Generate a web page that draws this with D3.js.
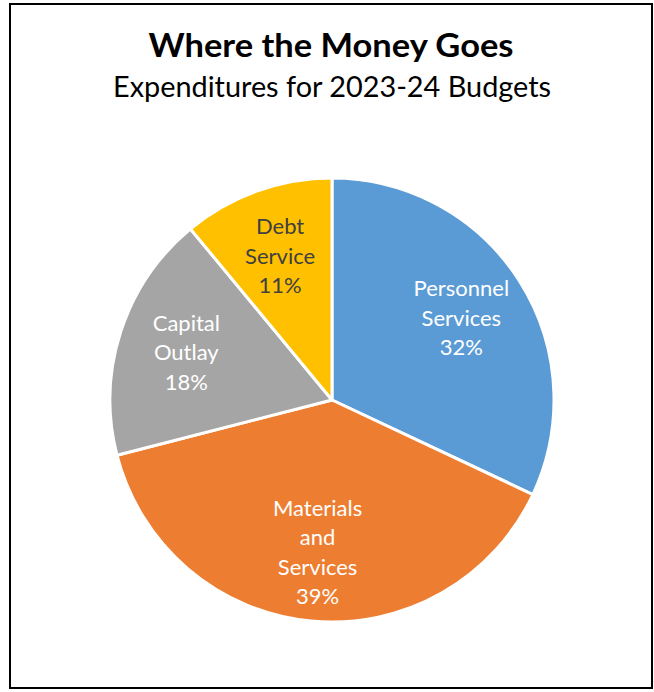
<!DOCTYPE html>
<html>
<head>
<meta charset="utf-8">
<script src="https://cdn.jsdelivr.net/npm/d3@7"></script>
<style>
  html, body { margin: 0; padding: 0; background: #fff; }
  svg { display: block; }
  text { font-family: Lato, "Open Sans", sans-serif; }
</style>
</head>
<body>
<svg id="chart" width="654" height="692"></svg>
<script>
// Budget expenditure shares, in percent
const categories = ["Personnel Services", "Materials and Services", "Capital Outlay", "Debt Service"];
const labelLines = [["Personnel", "Services"], ["Materials", "and", "Services"], ["Capital", "Outlay"], ["Debt", "Service"]];
const shares = [32, 39, 18, 11];
const colors = ["#5B9BD5", "#ED7D31", "#A5A5A5", "#FFC000"];
const textColors = ["#ffffff", "#ffffff", "#ffffff", "#404040"];

const title = "Where the Money Goes";
const subtitle = "Expenditures for 2023-24 Budgets";

const W = 654, H = 692;
const svg = d3.select("#chart");

// Outer frame
svg.append("rect")
  .attr("x", 10).attr("y", 4)
  .attr("width", 642).attr("height", 684)
  .attr("fill", "#fff")
  .attr("stroke", "#000")
  .attr("stroke-width", 2);

// Titles
svg.append("text")
  .attr("x", 331).attr("y", 57)
  .attr("text-anchor", "middle")
  .attr("font-size", 32)
  .attr("font-weight", "bold")
  .attr("textLength", 365)
  .attr("lengthAdjust", "spacingAndGlyphs")
  .attr("fill", "#000")
  .text(title);

svg.append("text")
  .attr("x", 332).attr("y", 97)
  .attr("text-anchor", "middle")
  .attr("font-size", 28)
  .attr("textLength", 438)
  .attr("lengthAdjust", "spacingAndGlyphs")
  .attr("fill", "#000")
  .text(subtitle);

// Pie
const cx = 332, cy = 400, radius = 222;
const data = categories.map((c, i) => ({ name: c, value: shares[i], idx: i }));

const pie = d3.pie().value(d => d.value).sort(null);
const arc = d3.arc().innerRadius(0).outerRadius(radius);
const labelArc = d3.arc().innerRadius(radius * 0.69).outerRadius(radius * 0.69);
const color = d3.scaleOrdinal().domain(categories).range(colors);
const textColor = d3.scaleOrdinal().domain(categories).range(textColors);

const g = svg.append("g").attr("transform", `translate(${cx},${cy})`);
const arcs = pie(data);

g.selectAll("path.slice")
  .data(arcs)
  .join("path")
  .attr("class", "slice")
  .attr("d", arc)
  .attr("fill", d => color(d.data.name))
  .attr("stroke", "#fff")
  .attr("stroke-width", 3)
  .attr("stroke-linejoin", "round");

// Labels: category lines plus the percentage
const lineH = 29.5;
const labels = g.selectAll("text.label")
  .data(arcs)
  .join("text")
  .attr("class", "label")
  .attr("text-anchor", "middle")
  .attr("font-size", 22)
  .attr("fill", d => textColor(d.data.name))
  .attr("transform", d => { const [x, y] = labelArc.centroid(d); return `translate(${x},${y})`; });

labels.each(function(d) {
  const lines = labelLines[d.data.idx].concat([d3.format(".0%")(d.data.value / 100)]);
  const n = lines.length;
  d3.select(this).selectAll("tspan")
    .data(lines)
    .join("tspan")
    .attr("x", 0)
    .attr("y", (l, i) => (i - (n - 1) / 2) * lineH)
    .attr("dy", "0.35em")
    .text(l => l);
});
</script>
</body>
</html>
